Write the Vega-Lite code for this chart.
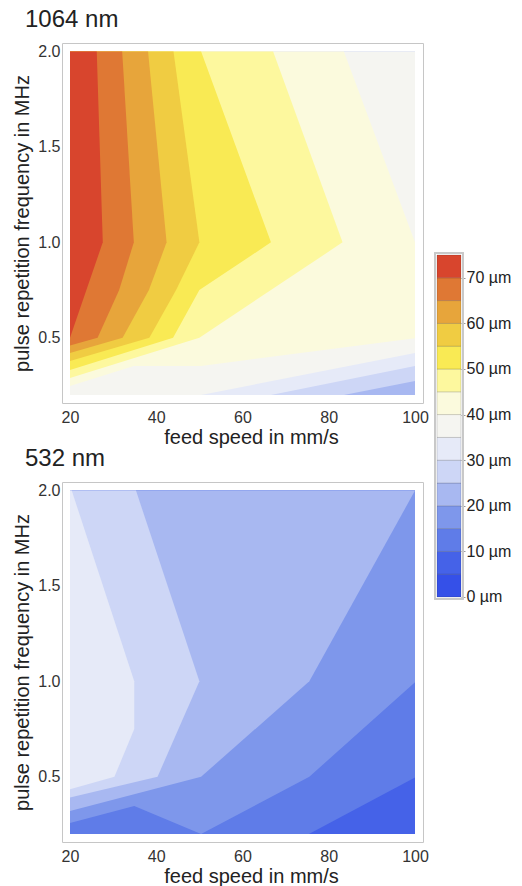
{
  "$schema": "https://vega.github.io/schema/vega-lite/v6.json",
  "padding": {"left": 12, "top": 7, "right": 0, "bottom": 0},
  "background": "white",
  "config": {
    "font": "Liberation Sans",
    "view": {"stroke": "#c6c6c6", "strokeWidth": 1},
    "axis": {"domain": false, "ticks": false, "grid": false, "labelFontSize": 16, "titleFontSize": 20, "labelColor": "#333333", "titleColor": "#222222", "titleFontWeight": "normal", "labelFont": "Liberation Sans", "titleFont": "Liberation Sans"},
    "title": {"font": "Liberation Sans", "fontSize": 24, "fontWeight": "normal", "color": "#222222"}
  },
  "datasets": {
    "nm1064": [
      {"lv": 20, "k": 0, "x": 20, "y": 0.2, "c": null},
      {"lv": 20, "k": 1, "x": 20, "y": 2.0, "c": null},
      {"lv": 20, "k": 2, "x": 100, "y": 2.0, "c": null},
      {"lv": 20, "k": 3, "x": 100, "y": 0.2, "c": null},
      {"lv": 25, "k": 0, "x": 20, "y": 2.0, "c": null},
      {"lv": 25, "k": 1, "x": 100, "y": 2.0, "c": null},
      {"lv": 25, "k": 2, "x": 100, "y": 0.273, "c": "a"},
      {"lv": 25, "k": 3, "x": 83.5, "y": 0.2, "c": "a"},
      {"lv": 25, "k": 4, "x": 20, "y": 0.2, "c": null},
      {"lv": 30, "k": 0, "x": 20, "y": 2.0, "c": null},
      {"lv": 30, "k": 1, "x": 100, "y": 2.0, "c": null},
      {"lv": 30, "k": 2, "x": 100, "y": 0.352, "c": "a"},
      {"lv": 30, "k": 3, "x": 66.6, "y": 0.2, "c": "a"},
      {"lv": 30, "k": 4, "x": 20, "y": 0.2, "c": null},
      {"lv": 35, "k": 0, "x": 20, "y": 2.0, "c": null},
      {"lv": 35, "k": 1, "x": 100, "y": 2.0, "c": null},
      {"lv": 35, "k": 2, "x": 100, "y": 0.42, "c": "a"},
      {"lv": 35, "k": 3, "x": 50.4, "y": 0.2, "c": "a"},
      {"lv": 35, "k": 4, "x": 20, "y": 0.2, "c": null},
      {"lv": 40, "k": 0, "x": 20, "y": 2.0, "c": null},
      {"lv": 40, "k": 1, "x": 83.5, "y": 2.0, "c": "a"},
      {"lv": 40, "k": 2, "x": 100, "y": 1.0, "c": "a"},
      {"lv": 40, "k": 3, "x": 100, "y": 0.498, "c": "b"},
      {"lv": 40, "k": 4, "x": 50.4, "y": 0.352, "c": "b"},
      {"lv": 40, "k": 5, "x": 34.8, "y": 0.352, "c": "b"},
      {"lv": 40, "k": 6, "x": 20, "y": 0.247, "c": "b"},
      {"lv": 45, "k": 0, "x": 20, "y": 2.0, "c": null},
      {"lv": 45, "k": 1, "x": 67.1, "y": 2.0, "c": "a"},
      {"lv": 45, "k": 2, "x": 83.2, "y": 1.0, "c": "a"},
      {"lv": 45, "k": 3, "x": 50, "y": 0.5, "c": "a"},
      {"lv": 45, "k": 4, "x": 20, "y": 0.289, "c": "a"},
      {"lv": 50, "k": 0, "x": 20, "y": 2.0, "c": null},
      {"lv": 50, "k": 1, "x": 50.4, "y": 2.0, "c": "a"},
      {"lv": 50, "k": 2, "x": 66.6, "y": 1.0, "c": "a"},
      {"lv": 50, "k": 3, "x": 50, "y": 0.75, "c": "a"},
      {"lv": 50, "k": 4, "x": 43.9, "y": 0.5, "c": "a"},
      {"lv": 50, "k": 5, "x": 20, "y": 0.331, "c": "a"},
      {"lv": 55, "k": 0, "x": 20, "y": 2.0, "c": null},
      {"lv": 55, "k": 1, "x": 44, "y": 2.0, "c": "a"},
      {"lv": 55, "k": 2, "x": 50, "y": 1.0, "c": "a"},
      {"lv": 55, "k": 3, "x": 44.6, "y": 0.75, "c": "a"},
      {"lv": 55, "k": 4, "x": 38.4, "y": 0.5, "c": "a"},
      {"lv": 55, "k": 5, "x": 20, "y": 0.378, "c": "a"},
      {"lv": 60, "k": 0, "x": 20, "y": 2.0, "c": null},
      {"lv": 60, "k": 1, "x": 38.1, "y": 2.0, "c": "a"},
      {"lv": 60, "k": 2, "x": 42.4, "y": 1.0, "c": "a"},
      {"lv": 60, "k": 3, "x": 38.3, "y": 0.75, "c": "a"},
      {"lv": 60, "k": 4, "x": 32.2, "y": 0.5, "c": "a"},
      {"lv": 60, "k": 5, "x": 20, "y": 0.42, "c": "a"},
      {"lv": 65, "k": 0, "x": 20, "y": 2.0, "c": null},
      {"lv": 65, "k": 1, "x": 32.1, "y": 2.0, "c": "a"},
      {"lv": 65, "k": 2, "x": 34.8, "y": 1.0, "c": "a"},
      {"lv": 65, "k": 3, "x": 31.4, "y": 0.75, "c": "a"},
      {"lv": 65, "k": 4, "x": 26.4, "y": 0.5, "c": "a"},
      {"lv": 65, "k": 5, "x": 20, "y": 0.46, "c": "a"},
      {"lv": 70, "k": 0, "x": 20, "y": 2.0, "c": null},
      {"lv": 70, "k": 1, "x": 26.2, "y": 2.0, "c": "a"},
      {"lv": 70, "k": 2, "x": 27.6, "y": 1.0, "c": "a"},
      {"lv": 70, "k": 3, "x": 20, "y": 0.5, "c": "a"}
    ],
    "nm532": [
      {"lv": 5, "k": 0, "x": 20, "y": 2.0, "c": null},
      {"lv": 5, "k": 1, "x": 100, "y": 2.0, "c": null},
      {"lv": 5, "k": 2, "x": 100, "y": 0.2, "c": null},
      {"lv": 5, "k": 3, "x": 20, "y": 0.2, "c": null},
      {"lv": 10, "k": 0, "x": 20, "y": 2.0, "c": null},
      {"lv": 10, "k": 1, "x": 100, "y": 2.0, "c": null},
      {"lv": 10, "k": 2, "x": 100, "y": 0.496, "c": "a"},
      {"lv": 10, "k": 3, "x": 75.4, "y": 0.2, "c": "a"},
      {"lv": 10, "k": 4, "x": 20, "y": 0.2, "c": null},
      {"lv": 15, "k": 0, "x": 20, "y": 2.0, "c": null},
      {"lv": 15, "k": 1, "x": 100, "y": 2.0, "c": null},
      {"lv": 15, "k": 2, "x": 100, "y": 0.996, "c": "a"},
      {"lv": 15, "k": 3, "x": 75.5, "y": 0.5, "c": "a"},
      {"lv": 15, "k": 4, "x": 50.4, "y": 0.2, "c": "a"},
      {"lv": 15, "k": 5, "x": 34.9, "y": 0.347, "c": "a"},
      {"lv": 15, "k": 6, "x": 20, "y": 0.258, "c": "a"},
      {"lv": 20, "k": 0, "x": 20, "y": 2.0, "c": null},
      {"lv": 20, "k": 1, "x": 100, "y": 2.0, "c": "a"},
      {"lv": 20, "k": 2, "x": 75.5, "y": 1.0, "c": "a"},
      {"lv": 20, "k": 3, "x": 50.4, "y": 0.5, "c": "a"},
      {"lv": 20, "k": 4, "x": 20, "y": 0.32, "c": "a"},
      {"lv": 25, "k": 0, "x": 20, "y": 2.0, "c": null},
      {"lv": 25, "k": 1, "x": 35.3, "y": 2.0, "c": "a"},
      {"lv": 25, "k": 2, "x": 50, "y": 1.0, "c": "a"},
      {"lv": 25, "k": 3, "x": 40.3, "y": 0.5, "c": "a"},
      {"lv": 25, "k": 4, "x": 20, "y": 0.391, "c": "a"},
      {"lv": 30, "k": 0, "x": 20, "y": 2.0, "c": null},
      {"lv": 30, "k": 1, "x": 20.4, "y": 2.0, "c": "a"},
      {"lv": 30, "k": 2, "x": 34.9, "y": 1.0, "c": "a"},
      {"lv": 30, "k": 3, "x": 34.9, "y": 0.75, "c": "a"},
      {"lv": 30, "k": 4, "x": 30.3, "y": 0.5, "c": "a"},
      {"lv": 30, "k": 5, "x": 20, "y": 0.435, "c": "a"}
    ],
    "bands": [
      {"lv": 0, "hi": 5}, {"lv": 5, "hi": 10}, {"lv": 10, "hi": 15}, {"lv": 15, "hi": 20},
      {"lv": 20, "hi": 25}, {"lv": 25, "hi": 30}, {"lv": 30, "hi": 35}, {"lv": 35, "hi": 40},
      {"lv": 40, "hi": 45}, {"lv": 45, "hi": 50}, {"lv": 50, "hi": 55}, {"lv": 55, "hi": 60},
      {"lv": 60, "hi": 65}, {"lv": 65, "hi": 70}, {"lv": 70, "hi": 75}
    ]
  },
  "spacing": 5,
  "hconcat": [
    {
      "bounds": "flush",
      "spacing": 79,
      "vconcat": [
        {
          "width": 361, "height": 360,
          "title": {"text": "1064 nm", "anchor": "start", "frame": "group", "dx": -37, "offset": 11},
          "data": {"name": "nm1064"},
          "layer": [
            {
              "mark": {"type": "line", "stroke": null, "strokeWidth": 0},
              "encoding": {
                "x": {"field": "x", "type": "quantitative", "scale": {"domain": [18.145, 101.855], "nice": false, "zero": false}, "axis": {"values": [20, 40, 60, 80, 100], "title": "feed speed in mm/s", "titleX": 189, "labelPadding": 6, "titlePadding": 2}},
                "y": {"field": "y", "type": "quantitative", "scale": {"domain": [0.158, 2.045], "nice": false, "zero": false}, "axis": {"values": [0.5, 1.0, 1.5, 2.0], "format": ".1f", "title": "pulse repetition frequency in MHz", "labelPadding": 2, "titlePadding": 5}},
                "fill": {"field": "lv", "type": "ordinal", "legend": null, "scale": {"domain": [0, 5, 10, 15, 20, 25, 30, 35, 40, 45, 50, 55, 60, 65, 70], "range": ["#3550e8", "#4562e8", "#5f7ce8", "#7e97eb", "#a8b8f1", "#cdd6f6", "#e6eaf8", "#f5f5f1", "#fbfadd", "#fdf89e", "#f9ea54", "#f0cc42", "#e7a53b", "#df7834", "#d8452d"]}},
                "order": {"field": "k", "type": "quantitative"}
              }
            },
            {
              "transform": [{"filter": {"field": "c", "valid": true}}],
              "mark": {"type": "line", "stroke": "#000000", "strokeOpacity": 0.22, "strokeWidth": 0.8},
              "encoding": {
                "x": {"field": "x", "type": "quantitative"},
                "y": {"field": "y", "type": "quantitative"},
                "detail": [{"field": "lv"}, {"field": "c"}],
                "order": {"field": "k", "type": "quantitative"}
              }
            }
          ]
        },
        {
          "width": 361, "height": 360,
          "title": {"text": "532 nm", "anchor": "start", "frame": "group", "dx": -37, "offset": 11},
          "data": {"name": "nm532"},
          "layer": [
            {
              "mark": {"type": "line", "stroke": null, "strokeWidth": 0},
              "encoding": {
                "x": {"field": "x", "type": "quantitative", "scale": {"domain": [18.145, 101.855], "nice": false, "zero": false}, "axis": {"values": [20, 40, 60, 80, 100], "title": "feed speed in mm/s", "titleX": 189, "labelPadding": 6, "titlePadding": 2}},
                "y": {"field": "y", "type": "quantitative", "scale": {"domain": [0.158, 2.045], "nice": false, "zero": false}, "axis": {"values": [0.5, 1.0, 1.5, 2.0], "format": ".1f", "title": "pulse repetition frequency in MHz", "labelPadding": 2, "titlePadding": 5}},
                "fill": {"field": "lv", "type": "ordinal", "legend": null, "scale": {"domain": [0, 5, 10, 15, 20, 25, 30, 35, 40, 45, 50, 55, 60, 65, 70], "range": ["#3550e8", "#4562e8", "#5f7ce8", "#7e97eb", "#a8b8f1", "#cdd6f6", "#e6eaf8", "#f5f5f1", "#fbfadd", "#fdf89e", "#f9ea54", "#f0cc42", "#e7a53b", "#df7834", "#d8452d"]}},
                "order": {"field": "k", "type": "quantitative"}
              }
            },
            {
              "transform": [{"filter": {"field": "c", "valid": true}}],
              "mark": {"type": "line", "stroke": "#000000", "strokeOpacity": 0.22, "strokeWidth": 0.8},
              "encoding": {
                "x": {"field": "x", "type": "quantitative"},
                "y": {"field": "y", "type": "quantitative"},
                "detail": [{"field": "lv"}, {"field": "c"}],
                "order": {"field": "k", "type": "quantitative"}
              }
            }
          ]
        }
      ]
    },
    {
      "width": 24, "height": 799,
      "view": {"stroke": null},
      "data": {"name": "bands"},
      "layer": [
        {
          "mark": {"type": "rect", "fill": null, "stroke": "#c8c8c8", "strokeWidth": 1},
          "encoding": {
            "x": {"datum": -0.09, "type": "quantitative", "scale": {"domain": [0, 1], "nice": false, "zero": false}, "axis": null},
            "x2": {"datum": 1.09},
            "y": {"datum": -0.45, "type": "quantitative", "scale": {"domain": [-53.73, 121.49], "nice": false, "zero": false}},
            "y2": {"datum": 75.45}
          }
        },
        {
          "mark": {"type": "rect", "stroke": "#000000", "strokeOpacity": 0.18, "strokeWidth": 0.8},
          "encoding": {
            "x": {"datum": 0, "type": "quantitative"},
            "x2": {"datum": 1},
            "y": {"field": "lv", "type": "quantitative", "axis": {"orient": "right", "values": [0, 10, 20, 30, 40, 50, 60, 70], "labelExpr": "datum.value + ' µm'", "title": null, "ticks": true, "tickSize": 4, "tickColor": "#999999", "labelPadding": 1, "labelColor": "#222222"}},
            "y2": {"field": "hi"},
            "fill": {"field": "lv", "type": "ordinal", "legend": null, "scale": {"domain": [0, 5, 10, 15, 20, 25, 30, 35, 40, 45, 50, 55, 60, 65, 70], "range": ["#3550e8", "#4562e8", "#5f7ce8", "#7e97eb", "#a8b8f1", "#cdd6f6", "#e6eaf8", "#f5f5f1", "#fbfadd", "#fdf89e", "#f9ea54", "#f0cc42", "#e7a53b", "#df7834", "#d8452d"]}}
          }
        }
      ]
    }
  ]
}
